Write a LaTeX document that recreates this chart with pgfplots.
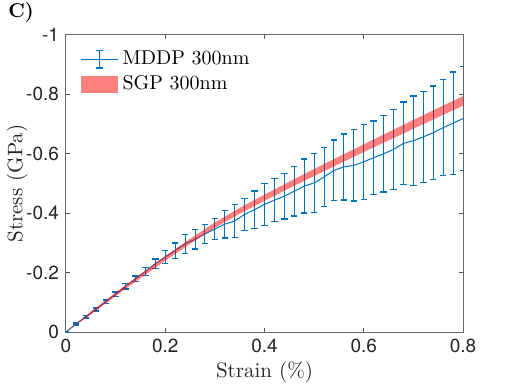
\documentclass[border=0pt]{standalone}
\usepackage{fontspec}
\usepackage{pgfplots}
\pgfplotsset{compat=1.18}
\newfontfamily\heros{TeX Gyre Heros}
\definecolor{mblue}{RGB}{0,114,189}
\definecolor{axgray}{gray}{0.15}
\begin{document}
\begin{tikzpicture}
\path[use as bounding box] (-33pt,-26pt) rectangle (223pt,166pt);
\begin{axis}[
  at={(0pt,0pt)}, anchor=south west,
  scale only axis, width=198.5pt, height=148.5pt,
  xmin=0, xmax=0.8, ymin=-1, ymax=0, y dir=reverse,
  xtick={0,0.2,0.4,0.6,0.8}, xticklabels={0,0.2,0.4,0.6,0.8},
  ytick={-1,-0.8,-0.6,-0.4,-0.2,0}, yticklabels={-1,-0.8,-0.6,-0.4,-0.2,0},
  tick align=inside, major tick length=2pt,
  axis line style={axgray!70, line width=0.5pt},
  tick style={axgray!80, line width=0.5pt},
  ticklabel style={font=\heros\fontsize{9.5}{11}\selectfont, text=axgray},
  xlabel={Strain (\%)}, ylabel={Stress (GPa)},
  label style={font=\fontsize{10.5}{12}\selectfont, text=axgray},
  xlabel style={at={(axis description cs:0.5,-0.135)}, anchor=center},
  ylabel style={at={(axis description cs:-0.123,0.5)}, anchor=center, rotate=0},
  legend style={draw=none, fill=none, at={(axis description cs:0.02,0.975)}, anchor=north west,
    font=\fontsize{10}{12}\selectfont, row sep=0pt, cells={anchor=west}},
  clip mode=individual,
]
\addplot[color=mblue, line width=0.5pt, mark=none,
  legend image code/.code={
    \draw[color=mblue, line width=0.6pt] (0pt,0pt) -- (18.5pt,0pt);
    \draw[color=mblue, line width=0.6pt] (9.25pt,-4.4pt) -- (9.25pt,4.4pt);
    \draw[color=mblue, line width=0.6pt] (7.6pt,-4.4pt) -- (10.9pt,-4.4pt);
    \draw[color=mblue, line width=0.6pt] (7.6pt,4.4pt) -- (10.9pt,4.4pt);
  },
  error bars/.cd, y dir=both, y explicit,
  error bar style={line width=0.5pt, color=mblue},
  error mark options={rotate=90, mark size=1.6pt, color=mblue, line width=0.7pt}]
  table[x=x, y=y, y error=e] {
x y e
0 0 0
0.02 -0.027 0.003
0.04 -0.0515 0.004
0.06 -0.076 0.005
0.08 -0.102 0.006
0.10 -0.127 0.008
0.12 -0.154 0.0095
0.14 -0.179 0.0095
0.16 -0.204 0.014
0.18 -0.230 0.016
0.20 -0.2525 0.021
0.22 -0.274 0.026
0.24 -0.297 0.032
0.26 -0.312 0.033
0.28 -0.330 0.032
0.30 -0.347 0.036
0.32 -0.363 0.046
0.34 -0.374 0.056
0.36 -0.396 0.054
0.38 -0.412 0.063
0.40 -0.430 0.071
0.42 -0.444 0.072
0.44 -0.457 0.077
0.46 -0.474 0.084
0.48 -0.491 0.091
0.50 -0.502 0.100
0.52 -0.522 0.100
0.54 -0.544 0.102
0.56 -0.556 0.111
0.58 -0.561 0.120
0.60 -0.573 0.126
0.62 -0.587 0.124
0.64 -0.600 0.128
0.66 -0.615 0.135
0.68 -0.635 0.139
0.70 -0.644 0.150
0.72 -0.657 0.153
0.74 -0.671 0.157
0.76 -0.688 0.162
0.78 -0.703 0.172
0.80 -0.7185 0.175
};
\addlegendentry{MDDP 300nm}
\addplot[fill=red, fill opacity=0.5, draw=none,
  legend image code/.code={\fill[red, opacity=0.5] (0pt,-4.25pt) rectangle (18.5pt,4.25pt);}]
  coordinates {
(0,0) (0.05,-0.069) (0.1,-0.133) (0.15,-0.195) (0.2,-0.256) (0.25,-0.3135) (0.3,-0.369)
(0.35,-0.418) (0.4,-0.4625) (0.45,-0.506) (0.5,-0.549) (0.55,-0.5905) (0.6,-0.632)
(0.65,-0.673) (0.7,-0.714) (0.75,-0.7545) (0.8,-0.794)
(0.8,-0.762) (0.75,-0.7235) (0.7,-0.684) (0.65,-0.645) (0.6,-0.606) (0.55,-0.5655)
(0.5,-0.525) (0.45,-0.484) (0.4,-0.4415) (0.35,-0.398) (0.3,-0.351) (0.25,-0.2965)
(0.2,-0.240) (0.15,-0.181) (0.1,-0.121) (0.05,-0.059) (0,0)
};
\addlegendentry{SGP 300nm}
\node[font=\bfseries\fontsize{10}{12}\selectfont, text=black] at (axis description cs:-0.113,1.077) {C)};
\end{axis}
\end{tikzpicture}
\end{document}
